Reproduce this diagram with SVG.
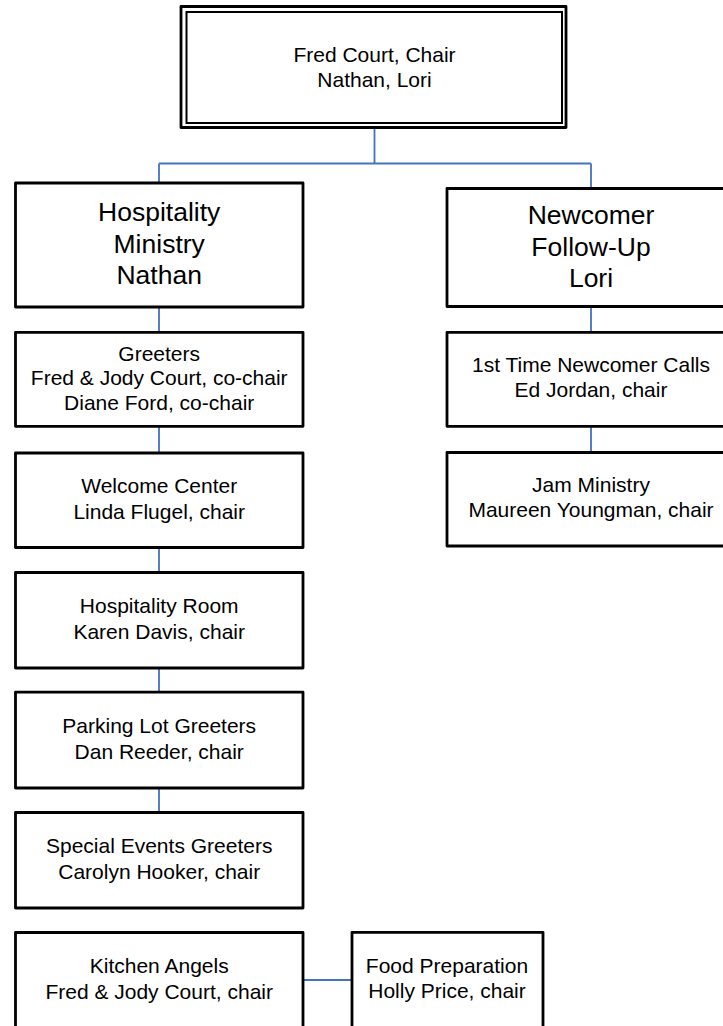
<svg xmlns="http://www.w3.org/2000/svg" width="723" height="1026" viewBox="0 0 723 1026">
<style>
.box{fill:#fff;stroke:#000;stroke-width:2.8;stroke-linejoin:round}
.inner{fill:none;stroke:#000;stroke-width:2}
.t{font-family:"Liberation Sans",Arial,sans-serif;font-size:21px;fill:#000;text-anchor:middle}
.big{font-size:26.5px}
.c{fill:none;stroke:#4472C4;stroke-width:1.8}
</style>
<rect width="723" height="1026" fill="#fff"/>
<g id="connectors">
<path class="c" d="M374.5 128V163.5M159 163.5H591M159 163.5V183M591 163.5V188.5"/>
<path class="c" d="M159 307V332M159 426.5V453M159 547.5V572.5M159 668V692M159 788V812.5"/>
<path class="c" d="M591 306.5V332M591 426.5V452.5"/>
<path class="c" d="M303 980H351"/>
</g>
<g id="top">
<rect class="box" x="181" y="6.5" width="385" height="121"/>
<rect class="inner" x="186.5" y="12" width="375.5" height="111"/>
<text class="t" x="374.5" y="62.3">Fred Court, Chair</text>
<text class="t" x="374.5" y="87.3">Nathan, Lori</text>
</g>
<g id="hospitality">
<rect class="box" x="15.5" y="183" width="287.5" height="124"/>
<text class="t big" x="159.2" y="221">Hospitality</text>
<text class="t big" x="159.2" y="252.5">Ministry</text>
<text class="t big" x="159.2" y="284">Nathan</text>
</g>
<g id="newcomer">
<rect class="box" x="447" y="188.5" width="289" height="118"/>
<text class="t big" x="591" y="224.3">Newcomer</text>
<text class="t big" x="591" y="255.8">Follow-Up</text>
<text class="t big" x="591" y="287.3">Lori</text>
</g>
<g id="greeters">
<rect class="box" x="15.5" y="332.3" width="287.5" height="94"/>
<text class="t" x="159.2" y="360.7">Greeters</text>
<text class="t" x="159.2" y="385.3">Fred &amp; Jody Court, co-chair</text>
<text class="t" x="159.2" y="410.3">Diane Ford, co-chair</text>
</g>
<g id="firsttime">
<rect class="box" x="447" y="332.3" width="289" height="94"/>
<text class="t" x="591" y="371.7">1st Time Newcomer Calls</text>
<text class="t" x="591" y="396.7">Ed Jordan, chair</text>
</g>
<g id="jam">
<rect class="box" x="447" y="452.5" width="289" height="93.5"/>
<text class="t" x="591" y="491.7">Jam Ministry</text>
<text class="t" x="591" y="516.7">Maureen Youngman, chair</text>
</g>
<g id="welcome">
<rect class="box" x="15.5" y="453" width="287.5" height="94.5"/>
<text class="t" x="159.2" y="493.3">Welcome Center</text>
<text class="t" x="159.2" y="519">Linda Flugel, chair</text>
</g>
<g id="hosproom">
<rect class="box" x="15.5" y="572.5" width="287.5" height="95.5"/>
<text class="t" x="159.2" y="613.3">Hospitality Room</text>
<text class="t" x="159.2" y="639">Karen Davis, chair</text>
</g>
<g id="parking">
<rect class="box" x="15.5" y="692.2" width="287.5" height="95.8"/>
<text class="t" x="159.2" y="733.3">Parking Lot Greeters</text>
<text class="t" x="159.2" y="759">Dan Reeder, chair</text>
</g>
<g id="special">
<rect class="box" x="15.5" y="812.5" width="287.5" height="95.5"/>
<text class="t" x="159.2" y="853.3">Special Events Greeters</text>
<text class="t" x="159.2" y="879">Carolyn Hooker, chair</text>
</g>
<g id="kitchen">
<rect class="box" x="15.5" y="932.5" width="287.5" height="96"/>
<text class="t" x="159.2" y="973.3">Kitchen Angels</text>
<text class="t" x="159.2" y="999">Fred &amp; Jody Court, chair</text>
</g>
<g id="food">
<rect class="box" x="352" y="932.3" width="191" height="96"/>
<text class="t" x="447" y="972.7">Food Preparation</text>
<text class="t" x="447" y="998.3">Holly Price, chair</text>
</g>
</svg>
